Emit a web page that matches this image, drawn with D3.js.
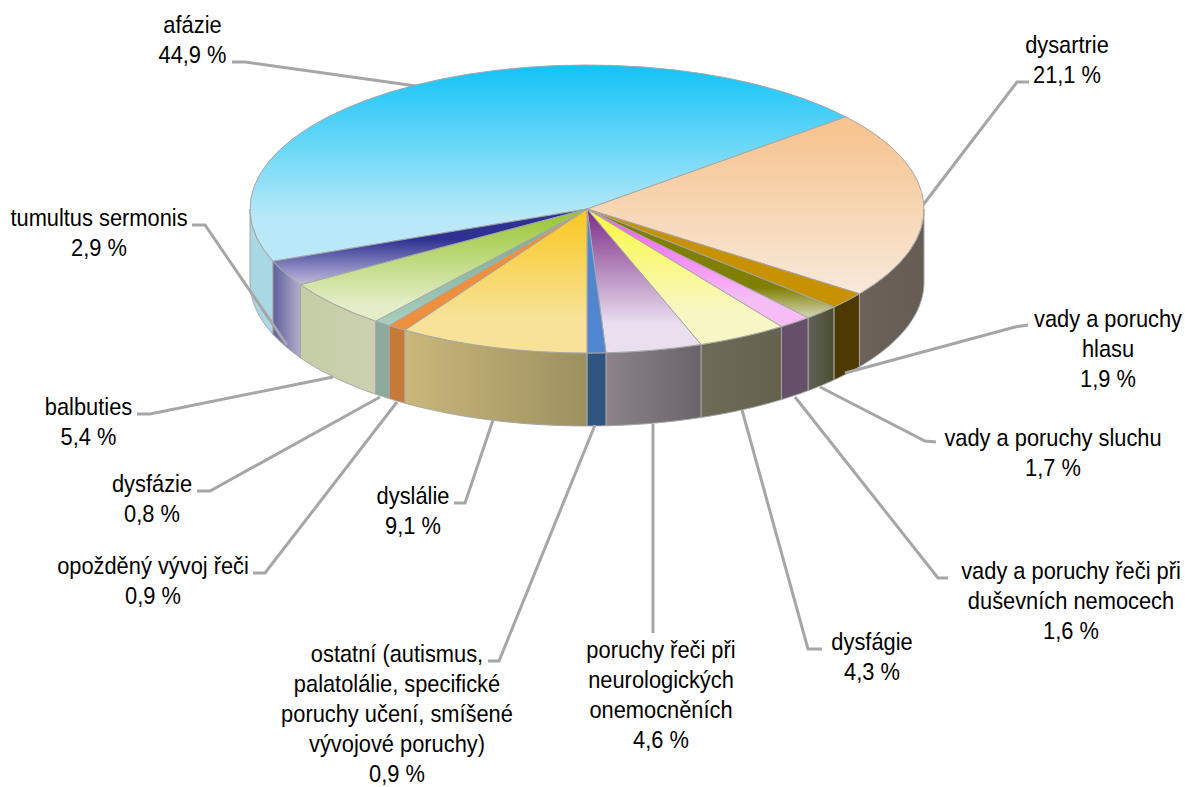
<!DOCTYPE html>
<html>
<head>
<meta charset="utf-8">
<script src="https://cdn.jsdelivr.net/npm/d3@7"></script>
<style>
html, body { margin: 0; padding: 0; background: #fff; }
text { font-family: "Liberation Sans", Arial, sans-serif; font-size: 24px; fill: #000; }
</style>
</head>
<body>
<svg id="chart"></svg>
<script>
const categories = ['afázie', 'dysartrie', 'vady a poruchy hlasu', 'vady a poruchy sluchu',
    'vady a poruchy řeči při duševních nemocech', 'dysfágie', 'poruchy řeči při neurologických onemocněních',
    'ostatní', 'dyslálie', 'opožděný vývoj řeči', 'dysfázie', 'balbuties', 'tumultus sermonis'];
const values = [44.9, 21.1, 1.9, 1.7, 1.6, 4.3, 4.6, 0.9, 9.1, 0.9, 0.8, 5.4, 2.9];
const value_labels = ['44,9 %', '21,1 %', '1,9 %', '1,7 %', '1,6 %', '4,3 %', '4,6 %', '0,9 %', '9,1 %', '0,9 %', '0,8 %', '5,4 %', '2,9 %'];
const label_lines = [
    ['afázie'], ['dysartrie'], ['vady a poruchy', 'hlasu'], ['vady a poruchy sluchu'],
    ['vady a poruchy řeči při', 'duševních nemocech'], ['dysfágie'],
    ['poruchy řeči při', 'neurologických', 'onemocněních'],
    ['ostatní (autismus,', 'palatolálie, specifické', 'poruchy učení, smíšené', 'vývojové poruchy)'],
    ['dyslálie'], ['opožděný vývoj řeči'], ['dysfázie'], ['balbuties'], ['tumultus sermonis']
];

// top face gradient: [from, to, fade start, fade end]
const top_colors = [
    ['#12c3f7', '#b9e9f8', 0, 0.78], ['#f6c592', '#f8e9da', 0.1, 1], ['#c79100', '#c79100', 0, 1], ['#7f7f00', '#d6d6b8', 0.72, 1],
    ['#f35ef5', '#f6bcf5', 0.1, 0.75], ['#faf83c', '#f8f7c4', 0, 0.75], ['#7b2a85', '#e9dfef', 0, 0.8], ['#4f86cf', '#4f86cf', 0, 1],
    ['#f9c71e', '#f7e297', 0, 0.75], ['#ee8f3d', '#ee8f3d', 0, 1], ['#80b09a', '#a8cfbe', 0.3, 1], ['#94c42c', '#e3edc8', 0, 0.85], ['#2e3192', '#c0bcdc', 0.4, 1]
];
// side wall gradient, left to right
const side_colors = [
    ['#a9d7e4', '#a9d7e4'], ['#6c625a', '#655c54'], ['#4e3a00', '#4e3a00'], ['#5f6255', '#4d4d35'],
    ['#664f68', '#664f68'], ['#6e6c58', '#64624e'], ['#8b8388', '#6a646a'], ['#2f5480', '#2f5480'],
    ['#cab87a', '#9d9060'], ['#c77a38', '#c77a38'], ['#8dab9c', '#8dab9c'], ['#c3cea4', '#cdd0b0'], ['#5f5f9d', '#b0aecb']
];

// leader lines, from the label to the rim
const leaders = [
    [[232, 62], [245, 62], [416, 86]],
    [[1029, 82], [1017, 82], [923, 205]],
    [[1028, 325], [1015, 327], [845, 373]],
    [[936, 442], [925, 441], [820, 387]],
    [[948, 578], [938, 578], [795, 397]],
    [[822, 649], [808, 649], [742, 410]],
    [[653, 633], [653, 424]],
    [[488, 661], [499, 661], [595, 425]],
    [[454, 503], [465, 503], [493, 420]],
    [[253, 573], [265, 573], [397, 402]],
    [[197, 491], [210, 491], [380, 397]],
    [[137, 414], [150, 414], [333, 377]],
    [[192, 225], [205, 225], [287, 345]]
];
// label block centres: x and baseline of the first line
const label_pos = [
    [192.5, 33], [1067, 53], [1108, 327], [1053, 446], [1071, 579], [872, 650],
    [661, 658], [397, 662], [413, 504], [153, 574], [152, 492], [88.5, 415], [99, 226]
];

const width = 1185, height = 787;
const cx = 587, cy = 209, rx = 337, ry = 144, depth = 73;
const x_stretch = 0.91;

const svg = d3.select('#chart').attr('width', width).attr('height', height);
const defs = svg.append('defs');

const pie = d3.pie().sort(null)
    .startAngle(-111.3 * Math.PI / 180)
    .endAngle(248.7 * Math.PI / 180);
const arcs = pie(values);

const xscale = d3.scaleLinear().domain([-1, 1]).range([cx - rx, cx + rx]);
const yscale = d3.scaleLinear().domain([-1, 1]).range([cy - ry, cy + ry]);

arcs.forEach((d, i) => {
    const top = defs.append('linearGradient').attr('id', `top${i}`)
        .attr('x1', 0).attr('y1', 0).attr('x2', 0).attr('y2', 1);
    top.append('stop').attr('offset', top_colors[i][2]).attr('stop-color', top_colors[i][0]);
    top.append('stop').attr('offset', top_colors[i][3]).attr('stop-color', top_colors[i][1]);

    const side = defs.append('linearGradient').attr('id', `side${i}`)
        .attr('x1', 0).attr('y1', 0).attr('x2', 1).attr('y2', 0);
    side.append('stop').attr('offset', 0).attr('stop-color', side_colors[i][0]);
    side.append('stop').attr('offset', 1).attr('stop-color', side_colors[i][1]);
});

// wall of a slice: only the front half of the rim can be seen
const front_from = Math.PI / 2, front_to = Math.PI * 3 / 2;
const rim = a => [xscale(Math.sin(a)), yscale(-Math.cos(a))];
function wallPath(d) {
    const a0 = Math.max(d.startAngle, front_from);
    const a1 = Math.min(d.endAngle, front_to);
    if (a1 <= a0) return null;
    const upper = d3.range(0, 41).map(k => rim(a0 + (a1 - a0) * k / 40));
    const lower = upper.slice().reverse().map(p => [p[0], p[1] + depth]);
    return d3.line()(upper.concat(lower)) + 'Z';
}

// the afázie slice wraps round the left side
const wall_arcs = arcs.map((d, i) => {
    if (i === 0) return { startAngle: d.startAngle + 2 * Math.PI, endAngle: front_to };
    return d;
});

svg.append('g').selectAll('path')
    .data(wall_arcs)
    .join('path')
    .attr('d', d => wallPath(d))
    .attr('fill', (d, i) => `url(#side${i})`)
    .attr('stroke', '#a6a6a6')
    .attr('stroke-width', 1);

const line = d3.line();
svg.append('g').selectAll('path')
    .data(leaders)
    .join('path')
    .attr('d', d => line(d))
    .attr('fill', 'none')
    .attr('stroke', '#a6a6a6')
    .attr('stroke-width', 3);

const arc = d3.arc().innerRadius(0).outerRadius(rx);
svg.append('g')
    .attr('transform', `translate(${cx},${cy}) scale(1,${ry / rx})`)
    .selectAll('path')
    .data(arcs)
    .join('path')
    .attr('d', arc)
    .attr('fill', (d, i) => `url(#top${i})`)
    .attr('stroke', '#a6a6a6')
    .attr('stroke-width', 1)
    .attr('vector-effect', 'non-scaling-stroke');

const line_height = 30;
const labels = svg.append('g').selectAll('text')
    .data(categories)
    .join('text')
    .attr('text-anchor', 'middle')
    .attr('transform', (d, i) => `translate(${label_pos[i][0]},${label_pos[i][1]}) scale(${x_stretch},1)`);

labels.each(function (d, i) {
    const lines = label_lines[i].concat(value_labels[i]);
    d3.select(this).selectAll('tspan')
        .data(lines)
        .join('tspan')
        .attr('x', 0)
        .attr('y', (t, k) => k * line_height)
        .text(t => t);
});
</script>
</body>
</html>
